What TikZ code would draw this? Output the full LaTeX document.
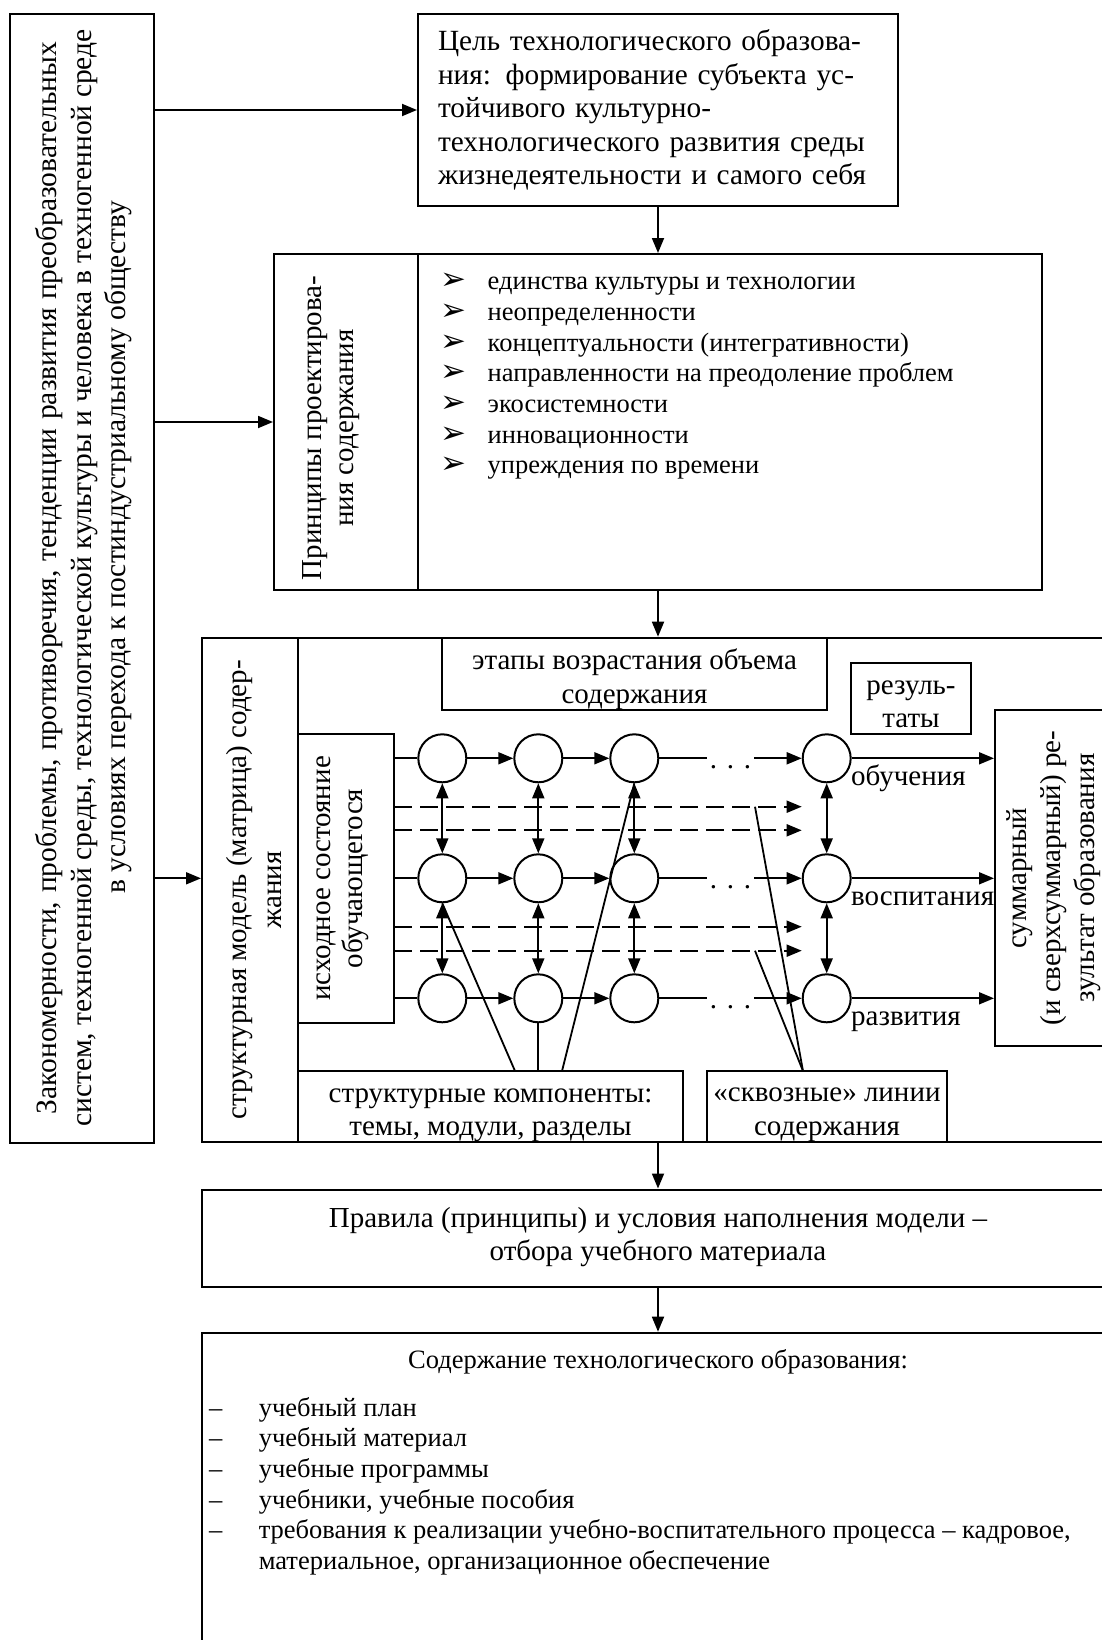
\documentclass[tikz,border=0pt]{standalone}
\usepackage{fontspec}
\setmainfont{Liberation Serif}
\newfontfamily\symfont{DejaVu Sans}
\usetikzlibrary{arrows.meta,calc}

\newcommand\fbig{\fontsize{29.5}{34.5}\selectfont}
\newcommand\fmain{\fontsize{29}{33.5}\selectfont}
\newcommand\fgoal{\fontsize{29.3}{33.6}\selectfont}
\newcommand\flist{\fontsize{26.5}{30.7}\selectfont}
\newcommand\pbul{\makebox[47.5pt][l]{\symfont\fontsize{31}{31}\selectfont ➢}}
\newcommand\cdash{\makebox[49.6pt][l]{–}}

\tikzset{
  box/.style={draw, line width=2pt, inner sep=0pt},
  outerbox/.style={draw, line width=2.6pt, inner sep=0pt},
  tip/.style={-{Triangle[length=15pt,width=12pt]}},
  arr/.style={line width=1.8pt, tip},
  darr/.style={line width=1.8pt, {Triangle[length=15pt,width=12pt]}-{Triangle[length=15pt,width=12pt]}},
  link/.style={line width=1.8pt},
  dline/.style={line width=1.8pt, dash pattern=on 18pt off 8pt, tip},
  stage/.style={circle, draw, line width=2pt, minimum size=48pt, inner sep=0pt, fill=white},
  txt/.style={font=\fmain, align=center, inner sep=0pt},
  vtxt/.style={align=center, inner sep=0pt, rotate=90},
  gapdots/.style={fill=white, inner sep=0pt, minimum width=47pt, text height=26pt, text depth=5pt, font=\fmain},
  lbl/.style={font=\fmain, inner sep=0pt, anchor=base west},
}

\begin{document}
\begin{tikzpicture}[x=1pt,y=-1pt]
\useasboundingbox (0,0) rectangle (1102,1640);
\clip (0,0) rectangle (1102,1640);

% ---------- main blocks ----------
\node[box, minimum width=144, minimum height=1129] (L) at (82,578.5) {};
\node[vtxt, font=\fbig] (Lt) at (84,578)
  {\makebox[1072pt][s]{Закономерности, проблемы, противоречия, тенденции развития преобразовательных}\\
   систем, техногенной среды, технологической культуры и человека в техногенной среде\\
   \hspace*{62pt}в условиях перехода к постиндустриальному обществу};

\node[box, minimum width=480, minimum height=192, font=\fgoal, text width=440, align=left] (G) at (658,110)
  {Цель технологического образова-\\ния: формирование субъекта ус-\\тойчивого культурно-\\технологического развития среды\\жизнедеятельности и самого себя};

\node[box, minimum width=144, minimum height=336] (Pl) at (346,422) {};
\node[box, minimum width=624, minimum height=336] (Pr) at (730,422) {};
\node[vtxt, font=\fontsize{29}{32}\selectfont] (Plt) at (331,428) {Принципы проектирова-\\ния содержания};
\node[font=\flist, align=left, anchor=north west, inner sep=0pt] (Plist) at (440,273)
  {\pbul единства культуры и технологии\\
   \pbul неопределенности\\
   \pbul концептуальности (интегративности)\\
   \pbul направленности на преодоление проблем\\
   \pbul экосистемности\\
   \pbul инновационности\\
   \pbul упреждения по времени};

% ---------- structural model ----------
\node[outerbox, minimum width=912, minimum height=504] (M) at (658,890) {};
\node[box, minimum width=96, minimum height=504] (Mp) at (250,890) {};
\node[vtxt, font=\fontsize{29}{35}\selectfont] (Mpt) at (254,890) {структурная модель (матрица) содер-\\жания};
\node[box, minimum width=385, minimum height=72] (E) at (634.5,674) {};
\node[txt, yshift=-5pt] (Et) at (E.center) {этапы возрастания объема\\содержания};
\node[box, minimum width=120, minimum height=71] (R) at (911,698.5) {};
\node[txt, yshift=-6pt] (Rt) at (R.center) {резуль-\\таты};
\node[box, minimum width=96, minimum height=289] (IS) at (346,878.5) {};
\node[vtxt, font=\fontsize{29}{31.6}\selectfont] (ISt) at (343,878.5) {исходное состояние\\обучающегося};
\node[box, minimum width=130, minimum height=336] (S) at (1060,878) {};
\node[vtxt, font=\fontsize{29}{34}\selectfont] (St) at (1054,878) {суммарный\\(и сверхсуммарный) ре-\\зультат образования};
\node[box, minimum width=385, minimum height=71] (SK) at (490.5,1106.5) {};
\node[txt, yshift=-9pt] (SKt) at (SK.center) {структурные компоненты:\\темы, модули, разделы};
\node[box, minimum width=240, minimum height=71] (SV) at (827,1106.5) {};
\node[txt, yshift=-8pt] (SVt) at (SV.center) {«сквозные» линии\\содержания};

% stages grid: n<row><column>
\foreach \r/\yy in {1/758.3, 2/878.3, 3/998.3}{
  \foreach \c/\xx in {1/442.3, 2/538.3, 3/634.3, 4/826.7}{
    \node[stage] (n\r\c) at (\xx,\yy) {};
  }
}

\node[lbl] (lob) at (851,785) {обучения};
\node[lbl] (lvo) at (851,905) {воспитания};
\node[lbl] (lra) at (851,1025) {развития};

% ---------- lower blocks ----------
\node[outerbox, minimum width=912, minimum height=97] (RU) at (658,1238.3) {};
\node[txt, yshift=1pt] (RUt) at (RU.center) {Правила (принципы) и условия наполнения модели –\\отбора учебного материала};
\node[outerbox, minimum width=912, minimum height=355] (C) at (658,1510.5) {};
\node[font=\flist, inner sep=0pt] (Ch) at (658,1362) {Содержание технологического образования:};
\node[font=\flist, align=left, anchor=north west, inner sep=0pt] (Cl) at (209,1397)
  {\cdash учебный план\\
   \cdash учебный материал\\
   \cdash учебные программы\\
   \cdash учебники, учебные пособия\\
   \cdash требования к реализации учебно-воспитательного процесса – кадровое,\\
   \hspace*{49.6pt}материальное, организационное обеспечение};

% ---------- connectors between blocks ----------
\draw[arr] (L.east |- G.west) -- (G.west);
\draw[arr] (L.east |- Pl.west) -- (Pl.west);
\draw[arr] (L.east |- n21) -- (Mp.west |- n21);
\draw[arr] (G.south) -- (G.south |- Pr.north);
\draw[arr] (G.south |- Pr.south) -- (G.south |- M.north);
\draw[arr] (G.south |- M.south) -- (G.south |- RU.north);
\draw[arr] (G.south |- RU.south) -- (G.south |- C.north);

% ---------- grid connectors ----------
\foreach \r in {1,2,3}{
  \draw[link] (IS.east |- n\r1) -- (n\r1.west);
  \draw[arr] (n\r1) -- (n\r2);
  \draw[arr] (n\r2) -- (n\r3);
  \draw[arr] (n\r3) -- node[gapdots] {. . .} (n\r4);
  \draw[arr] (n\r4) -- (S.west |- n\r4);
}
\foreach \c in {1,2,3,4}{
  \draw[darr] (n1\c) -- (n2\c);
  \draw[darr] (n2\c) -- (n3\c);
}

% through-lines of content (dashed)
\foreach \i/\yy in {1/806.7, 2/830.3, 3/926.7, 4/950.7}{
  \coordinate (da\i) at (394,\yy);
  \coordinate (db\i) at (801.7,\yy);
  \draw[dline] (da\i) -- (db\i);
}

% pointers from the structural components
\coordinate (sk1) at (515,1071);
\coordinate (sk3) at (562,1071);
\draw[link] (sk1) -- (n21.south);
\draw[link] (n32.south |- SK.north) -- (n32.south);
\draw[link] (sk3) -- (n13.south);

% pointers from the through-lines box
\coordinate (svtop) at (803,1071);
\coordinate (sv1) at (755,806.7);
\coordinate (sv2) at (755,950.7);
\draw[link] (svtop) -- (sv1);
\draw[link] (svtop) -- (sv2);

\end{tikzpicture}
\end{document}
